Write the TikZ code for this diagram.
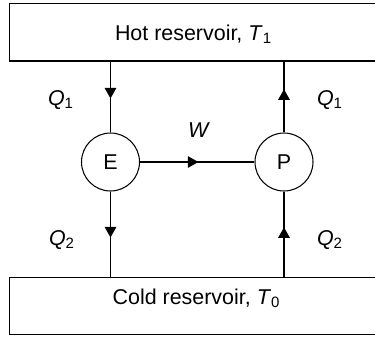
\documentclass[tikz,border=0pt]{standalone}
\usepackage{fontspec}
\setmainfont{Liberation Sans}
\usetikzlibrary{arrows.meta,decorations.markings}
\tikzset{
  reservoir/.style={draw,line width=0.7pt,minimum width=7.43cm,minimum height=1.15cm,inner sep=0pt},
  machine/.style={draw,circle,line width=0.6pt,minimum size=1.16cm,inner sep=0pt},
  flow/.style={line width=0.6pt,postaction={decorate},
    decoration={markings,mark=at position #1 with {\arrow{Triangle[width=2.3mm,length=2.1mm]}}}},
  tag/.style={anchor=base,inner sep=0pt}
}
\begin{document}
\begin{tikzpicture}[x=0.02cm,y=-0.02cm,font=\fontsize{12.2}{14}\selectfont]
\useasboundingbox (0,0) rectangle (375,336);
% reservoirs
\node[reservoir] (hot) at (195.5,32.25) {};
\node[reservoir] (cold) at (195.5,306) {};
\node[tag] (hotlabel) at (193.5,40) {Hot reservoir, \textit{T}\textsubscript{1}};
\node[tag] (coldlabel) at (196.5,304) {Cold reservoir, \textit{T}\textsubscript{0}};
% engine and pump
\node[machine] (E) at (110.5,162) {E};
\node[machine] (P) at (284,162) {P};
% heat and work flows
\draw[flow=0.52] (hot.south -| E) -- (E);
\draw[flow=0.54] (E) -- (cold.north -| E);
\draw[flow=0.61] (P) -- (hot.south -| P);
\draw[flow=0.58] (cold.north -| P) -- (P);
\draw[flow=0.51] (E) -- (P);
\node[tag] (q1e) at (61,105) {\textit{Q}\textsubscript{1}};
\node[tag] (q2e) at (62,245) {\textit{Q}\textsubscript{2}};
\node[tag] (q1p) at (330,105) {\textit{Q}\textsubscript{1}};
\node[tag] (q2p) at (330,245) {\textit{Q}\textsubscript{2}};
\node[tag] (w) at (199,137) {\textit{W}};
\end{tikzpicture}
\end{document}
